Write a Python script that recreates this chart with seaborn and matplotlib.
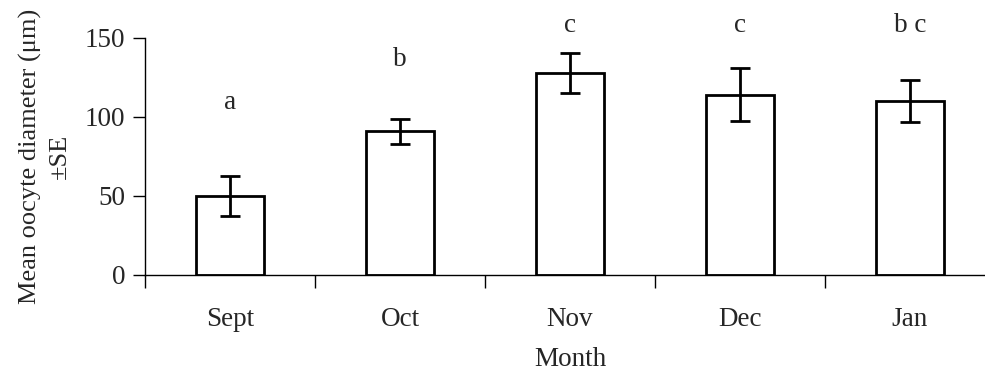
import matplotlib
matplotlib.use("Agg")
import matplotlib.pyplot as plt
import seaborn as sns
import pandas as pd
import numpy as np

months = ["Sept", "Oct", "Nov", "Dec", "Jan"]
mean_diam = [50, 91, 128, 114, 110]
se = [12.5, 7.8, 12.7, 16.7, 13.2]
letters = ["a", "b", "c", "c", "b c"]
letter_y = [105, 132, 154, 154, 154]

sns.set_style("white")
plt.rcParams["font.family"] = ["Liberation Serif", "DejaVu Serif"]

df = pd.DataFrame({"Month": months, "Mean": mean_diam, "SE": se})

FS = 19.5
fig = plt.figure(figsize=(9.85, 3.76), dpi=100)
ax = fig.add_axes([145/985, (376-275)/376, 850/985, 237/376])

sns.barplot(data=df, x="Month", y="Mean", color="white", edgecolor="black",
            linewidth=2.0, width=0.4, errorbar=None, ax=ax, saturation=1)
ax.errorbar(np.arange(len(months)), mean_diam, yerr=se, fmt="none",
            ecolor="black", elinewidth=2.0, capsize=7, capthick=2.0)

for i, (t, y) in enumerate(zip(letters, letter_y)):
    ax.text(i, y, t, ha="center", va="baseline", fontsize=FS)

ax.set_xlim(-0.5, 4.5)
ax.set_ylim(0, 150)
ax.set_yticks([0, 50, 100, 150])
ax.tick_params(axis="y", which="major", direction="out", length=9, width=1,
               labelsize=FS, pad=5, left=True, color="black")
ax.set_xticks(np.arange(len(months)))
ax.set_xticks(np.arange(-0.5, 5.0, 1.0), minor=True)
ax.tick_params(axis="x", which="major", length=0, labelsize=FS, pad=23)
ax.tick_params(axis="x", which="minor", direction="out", length=9, width=1,
               bottom=True, color="black")

for s in ["top", "right"]:
    ax.spines[s].set_visible(False)
for s in ["left", "bottom"]:
    ax.spines[s].set_color("black")
    ax.spines[s].set_linewidth(1.0)

ax.set_xlabel("Month", fontsize=FS, labelpad=11)
ax.set_ylabel("Mean oocyte diameter (μm)\n±SE", fontsize=19, labelpad=10,
              linespacing=1.4)

fig.savefig("out.png", dpi=100)
